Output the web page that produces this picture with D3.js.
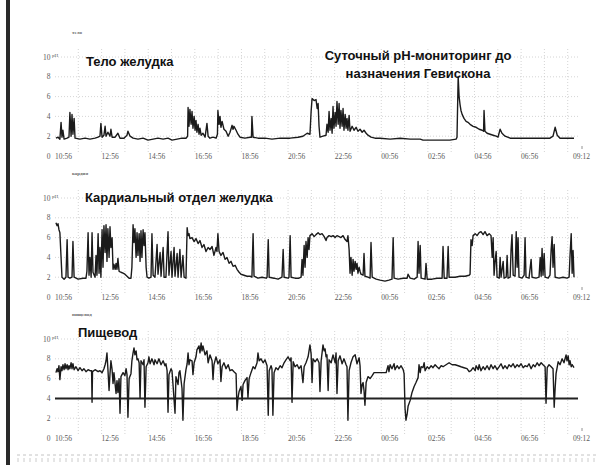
<!DOCTYPE html>
<html>
<head>
<meta charset="utf-8">
<script src="https://cdn.jsdelivr.net/npm/d3@7"></script>
<style>
  body { margin: 0; background: #fff; }
  svg { display: block; }
</style>
</head>
<body>
<svg id="chart" width="596" height="475"></svg>
<script>
// Recording start 10:56, end 09:12 next day; time is in hours elapsed since start.
const recordEnd = 22.27;
const timeTickHours = [0, 2, 4, 6, 8, 10, 12, 14, 16, 18, 20, 22.27];
const timeTickLabels = ["10:56", "12:56", "14:56", "16:56", "18:56", "20:56",
                        "22:56", "00:56", "02:56", "04:56", "06:56", "09:12"];
const hourGrid = d3.range(1, 23);
const phTicks = [0, 2, 4, 6, 8, 10];
const refluxThreshold = 4;

const panelNames = ["тело", "кардия", "пищевод"];
const panelTitles = ["Тело желудка", "Кардиальный отдел желудка", "Пищевод"];
const headline = ["Суточный pH-мониторинг до", "назначения Гевискона"];

// Stomach body sensor: [hours, pH]
const bodyReadings = [
  [0.04,1.8],[0.13,1.9],[0.21,1.7],[0.26,3.4],[0.30,1.9],[0.34,2.6],[0.39,1.7],[0.52,1.8],
  [0.60,1.9],[0.64,4.4],[0.69,2.0],[0.73,4.2],[0.77,2.2],[0.82,3.8],[0.86,1.8],[1.07,1.7],
  [1.29,1.8],[1.50,1.7],[1.72,1.8],[1.85,1.9],[1.93,2.0],[1.97,3.3],[2.02,1.9],[2.10,2.1],
  [2.15,3.0],[2.19,2.0],[2.27,2.4],[2.36,2.0],[2.40,2.7],[2.45,1.9],[2.58,1.9],[2.70,2.3],
  [2.79,1.8],[2.96,1.8],[3.09,2.1],[3.13,2.5],[3.22,2.0],[3.35,1.8],[3.56,1.7],[3.78,1.8],
  [3.99,1.6],[4.21,1.7],[4.42,1.8],[4.64,1.7],[4.85,1.8],[5.02,1.6],[5.24,1.7],[5.45,1.8],
  [5.62,1.8],[5.69,2.0],[5.71,4.9],[5.75,3.0],[5.79,4.7],[5.84,3.2],[5.88,4.5],[5.92,2.8],
  [5.97,4.0],[6.01,2.6],[6.05,3.6],[6.09,2.4],[6.14,3.2],[6.18,2.2],[6.22,2.8],[6.27,2.1],
  [6.35,2.3],[6.44,1.9],[6.52,3.3],[6.57,2.0],[6.65,1.8],[6.78,1.9],[6.91,1.8],[6.97,2.2],
  [6.99,4.6],[7.04,3.2],[7.08,4.0],[7.12,2.9],[7.17,3.5],[7.25,2.7],[7.34,2.5],[7.43,2.0],
  [7.51,2.4],[7.60,3.1],[7.64,2.7],[7.68,3.0],[7.77,2.6],[7.85,2.2],[7.94,1.9],[8.15,1.8],
  [8.37,1.9],[8.43,1.9],[8.45,4.0],[8.50,1.9],[8.71,1.8],[9.01,1.8],[9.31,1.7],[9.66,1.8],
  [10.09,1.8],[10.43,1.9],[10.64,2.0],[10.82,2.3],[10.94,2.2],[10.99,4.5],[11.03,5.8],[11.12,5.6],
  [11.20,5.7],[11.25,4.8],[11.29,5.3],[11.33,3.0],[11.37,1.9],[11.50,2.0],[11.63,2.1],[11.67,3.2],
  [11.72,2.4],[11.76,4.5],[11.80,2.6],[11.85,3.8],[11.89,2.3],[11.93,5.0],[11.97,2.8],[12.02,4.4],
  [12.06,3.0],[12.10,5.5],[12.15,3.2],[12.19,5.3],[12.23,2.8],[12.27,4.6],[12.32,3.0],[12.36,4.8],
  [12.40,2.6],[12.45,4.2],[12.49,2.8],[12.53,3.8],[12.57,2.6],[12.62,4.1],[12.66,2.5],[12.75,3.0],
  [12.83,2.6],[12.92,2.9],[13.00,2.5],[13.09,2.7],[13.18,2.4],[13.26,2.6],[13.35,2.3],[13.43,2.1],
  [13.56,1.9],[13.73,1.8],[13.95,1.8],[14.38,1.7],[14.81,1.8],[15.24,1.7],[15.67,1.7],[15.79,1.6],
  [16.09,1.6],[16.52,1.6],[16.95,1.6],[17.21,1.7],[17.25,1.9],[17.30,8.0],[17.34,6.0],[17.38,5.2],
  [17.42,4.6],[17.47,4.2],[17.55,3.8],[17.64,3.5],[17.72,3.4],[17.81,3.2],[17.94,3.0],[18.07,2.9],
  [18.20,2.7],[18.33,2.6],[18.39,2.5],[18.41,4.6],[18.45,2.5],[18.54,2.3],[18.67,2.2],[18.80,2.1],
  [18.93,2.0],[19.01,1.9],[19.10,2.7],[19.18,2.3],[19.31,2.0],[19.53,1.8],[19.96,1.8],[20.39,1.8],
  [20.82,1.8],[21.24,1.8],[21.37,2.0],[21.46,2.9],[21.55,2.1],[21.67,1.8],[21.97,1.8],[22.27,1.8]
];

// Cardia sensor: [hours, pH]
const cardiaReadings = [
  [0.04,7.5],[0.09,7.2],[0.13,7.4],[0.17,6.8],[0.21,6.5],[0.26,4.0],[0.30,2.0],[0.39,1.8],
  [0.47,2.0],[0.52,5.8],[0.56,2.0],[0.64,1.9],[0.73,2.0],[0.77,5.6],[0.82,2.0],[0.99,1.8],
  [1.20,1.9],[1.33,1.9],[1.37,2.6],[1.42,6.5],[1.46,2.2],[1.50,4.0],[1.55,2.0],[1.59,6.5],
  [1.63,2.5],[1.72,2.0],[1.76,4.2],[1.80,2.2],[1.85,6.4],[1.89,2.4],[1.93,5.0],[1.97,2.0],
  [2.02,6.8],[2.06,3.0],[2.10,7.2],[2.15,4.5],[2.19,7.3],[2.23,3.6],[2.27,6.9],[2.32,4.0],
  [2.36,7.1],[2.40,5.0],[2.45,6.0],[2.49,2.8],[2.53,3.3],[2.58,2.8],[2.62,3.4],[2.66,2.8],
  [2.70,3.9],[2.75,2.6],[2.83,2.5],[2.92,2.4],[3.00,2.3],[3.09,2.1],[3.18,1.9],[3.26,1.9],
  [3.30,3.0],[3.35,7.3],[3.39,5.5],[3.43,6.9],[3.48,4.0],[3.52,6.5],[3.56,4.2],[3.61,6.4],
  [3.65,3.6],[3.69,6.7],[3.73,4.0],[3.78,6.8],[3.82,5.2],[3.86,6.5],[3.91,3.0],[3.95,2.0],
  [4.03,1.9],[4.12,2.0],[4.16,6.4],[4.21,2.2],[4.29,2.0],[4.38,5.3],[4.42,2.3],[4.51,4.5],
  [4.55,2.1],[4.64,5.0],[4.68,2.0],[4.76,2.0],[4.85,6.6],[4.89,2.2],[4.98,4.6],[5.02,2.0],
  [5.11,5.0],[5.15,2.1],[5.24,4.4],[5.28,2.0],[5.36,4.8],[5.41,2.0],[5.49,4.2],[5.54,2.0],
  [5.62,1.9],[5.67,7.0],[5.71,6.2],[5.75,6.4],[5.79,5.9],[5.88,6.0],[5.97,5.6],[6.05,5.9],
  [6.14,5.4],[6.22,5.7],[6.31,5.0],[6.39,5.3],[6.48,4.6],[6.57,5.0],[6.65,4.8],[6.74,5.1],
  [6.82,4.2],[6.91,5.0],[6.95,4.6],[6.99,6.4],[7.04,4.6],[7.12,4.2],[7.21,4.5],[7.30,3.8],
  [7.38,4.0],[7.47,3.4],[7.55,3.6],[7.64,3.1],[7.73,3.2],[7.81,2.8],[7.90,2.5],[7.98,2.3],
  [8.11,2.2],[8.24,2.1],[8.37,2.1],[8.45,2.0],[8.50,6.4],[8.54,2.1],[8.71,1.9],[8.88,2.0],
  [9.06,1.9],[9.10,2.0],[9.15,5.8],[9.19,2.0],[9.40,1.9],[9.57,1.8],[9.74,2.0],[9.79,4.8],
  [9.83,2.0],[10.00,1.9],[10.04,2.0],[10.09,6.2],[10.13,2.0],[10.30,1.9],[10.47,1.9],[10.56,2.0],
  [10.60,3.8],[10.64,2.2],[10.69,5.2],[10.73,3.0],[10.77,5.6],[10.82,4.0],[10.86,6.0],[10.90,4.8],
  [10.94,6.2],[11.03,6.4],[11.12,6.1],[11.20,6.3],[11.29,6.5],[11.37,6.3],[11.46,6.4],[11.55,6.1],
  [11.63,5.7],[11.67,6.0],[11.76,6.2],[11.85,6.1],[11.93,6.2],[12.02,6.0],[12.10,6.2],[12.19,6.1],
  [12.27,6.0],[12.36,6.2],[12.45,5.8],[12.53,5.6],[12.57,6.2],[12.62,4.8],[12.66,2.4],[12.70,4.0],
  [12.75,2.2],[12.79,3.8],[12.83,2.6],[12.88,3.6],[12.92,2.8],[12.96,3.4],[13.00,2.4],[13.05,3.0],
  [13.09,2.6],[13.13,2.3],[13.22,2.2],[13.26,4.4],[13.30,2.1],[13.43,2.0],[13.52,1.9],[13.56,5.5],
  [13.61,2.0],[13.78,1.8],[13.95,1.7],[14.16,1.6],[14.33,1.7],[14.46,1.8],[14.51,6.0],[14.55,1.9],
  [14.72,1.8],[14.94,1.9],[15.11,1.9],[15.15,2.3],[15.24,1.9],[15.41,1.8],[15.54,2.0],[15.58,5.6],
  [15.62,2.4],[15.67,5.2],[15.71,1.9],[15.88,1.8],[15.92,3.4],[15.97,1.8],[16.18,1.8],[16.39,1.9],
  [16.61,1.9],[16.65,5.1],[16.70,1.9],[16.82,1.9],[16.87,5.1],[16.91,2.0],[17.17,2.0],[17.38,2.1],
  [17.60,2.1],[17.77,2.2],[17.81,2.3],[17.85,5.8],[17.90,5.2],[17.94,6.2],[18.03,6.4],[18.11,6.2],
  [18.20,6.5],[18.28,6.6],[18.37,6.3],[18.45,6.6],[18.54,6.2],[18.63,6.4],[18.71,6.2],[18.76,4.0],
  [18.80,6.0],[18.84,2.2],[18.88,3.5],[18.93,4.6],[18.97,2.0],[19.06,1.9],[19.10,4.0],[19.14,2.0],
  [19.23,3.6],[19.27,1.9],[19.36,2.0],[19.40,4.2],[19.44,1.9],[19.53,2.0],[19.57,4.8],[19.61,6.3],
  [19.66,2.2],[19.74,2.1],[19.79,6.6],[19.83,3.0],[19.87,6.0],[19.91,2.0],[20.04,1.9],[20.13,2.2],
  [20.17,6.0],[20.21,2.0],[20.34,1.9],[20.43,3.8],[20.47,2.0],[20.64,1.9],[20.77,2.0],[20.82,4.0],
  [20.86,2.1],[20.90,4.9],[20.94,2.2],[20.99,4.4],[21.03,2.0],[21.16,1.9],[21.24,2.2],[21.29,4.8],
  [21.33,6.1],[21.37,3.0],[21.42,5.3],[21.46,2.0],[21.63,1.9],[21.80,2.0],[21.97,1.9],[22.06,2.0],
  [22.10,4.2],[22.15,6.4],[22.19,2.4],[22.23,4.7],[22.27,2.0]
];

// Oesophagus sensor: [hours, pH]
const esophagusReadings = [
  [0.04,6.6],[0.09,7.0],[0.13,6.7],[0.17,7.3],[0.21,5.9],[0.26,7.2],[0.30,6.8],[0.34,7.4],
  [0.39,6.9],[0.43,7.5],[0.47,7.0],[0.52,7.4],[0.56,6.9],[0.60,7.3],[0.64,7.0],[0.69,7.6],
  [0.73,7.0],[0.77,7.5],[0.82,6.9],[0.90,7.2],[0.99,6.8],[1.07,7.1],[1.16,6.8],[1.24,7.0],
  [1.33,6.7],[1.42,6.9],[1.50,6.8],[1.57,6.8],[1.59,3.6],[1.61,6.7],[1.72,6.9],[1.85,6.7],
  [1.93,6.8],[2.02,6.6],[2.10,7.0],[2.15,7.4],[2.19,7.8],[2.23,8.6],[2.27,7.0],[2.32,4.8],
  [2.36,6.5],[2.40,7.8],[2.45,6.9],[2.49,5.5],[2.53,6.6],[2.62,4.5],[2.66,5.8],[2.70,4.6],
  [2.75,6.0],[2.79,2.5],[2.83,6.2],[2.92,6.6],[3.00,6.3],[3.05,7.0],[3.09,6.4],[3.13,2.1],
  [3.18,6.0],[3.26,6.5],[3.30,7.8],[3.35,8.6],[3.39,9.1],[3.43,8.4],[3.48,8.8],[3.52,7.9],
  [3.56,8.0],[3.61,7.6],[3.65,4.0],[3.69,7.8],[3.78,7.4],[3.82,7.9],[3.86,3.1],[3.91,7.2],
  [3.99,7.6],[4.03,8.2],[4.08,7.5],[4.16,8.0],[4.25,7.4],[4.29,7.9],[4.38,7.5],[4.46,8.0],
  [4.55,7.4],[4.64,7.8],[4.72,7.3],[4.76,7.5],[4.81,6.8],[4.85,2.6],[4.89,6.4],[4.98,7.0],
  [5.02,6.8],[5.06,5.5],[5.15,2.5],[5.19,6.2],[5.28,5.4],[5.32,6.6],[5.36,6.8],[5.45,5.0],
  [5.49,1.8],[5.54,5.5],[5.62,6.9],[5.67,7.5],[5.71,8.6],[5.75,7.4],[5.79,7.9],[5.88,7.8],
  [5.92,6.4],[5.97,7.6],[6.05,8.2],[6.09,8.9],[6.18,9.3],[6.22,8.6],[6.27,9.6],[6.31,8.8],
  [6.35,9.3],[6.44,8.4],[6.52,8.8],[6.57,7.6],[6.65,8.4],[6.74,7.8],[6.78,5.9],[6.82,7.4],
  [6.91,8.2],[6.99,7.5],[7.08,7.9],[7.12,5.7],[7.17,7.2],[7.25,7.6],[7.34,7.0],[7.43,7.4],
  [7.51,6.8],[7.60,6.9],[7.68,6.7],[7.77,6.5],[7.81,2.8],[7.85,4.0],[7.90,4.7],[7.98,5.2],
  [8.03,3.8],[8.07,5.4],[8.15,5.8],[8.24,6.1],[8.28,4.1],[8.33,6.0],[8.41,6.6],[8.50,7.2],
  [8.58,7.0],[8.67,7.6],[8.71,8.6],[8.76,7.8],[8.84,8.0],[8.93,7.6],[9.01,7.9],[9.10,7.3],
  [9.15,2.3],[9.19,6.8],[9.27,7.3],[9.31,7.0],[9.35,2.3],[9.40,6.6],[9.48,7.1],[9.57,6.9],
  [9.66,7.3],[9.74,7.1],[9.83,7.6],[9.91,7.9],[10.00,8.2],[10.09,7.8],[10.13,8.1],[10.17,3.6],
  [10.22,7.7],[10.30,7.2],[10.39,7.4],[10.47,7.0],[10.56,7.3],[10.64,5.6],[10.69,7.2],[10.77,7.6],
  [10.86,8.2],[10.90,8.8],[10.94,9.4],[10.99,8.5],[11.03,5.6],[11.07,8.0],[11.16,7.7],[11.25,8.0],
  [11.33,7.6],[11.37,4.7],[11.42,7.8],[11.46,8.6],[11.50,9.4],[11.55,8.8],[11.59,9.0],[11.63,8.2],
  [11.67,8.4],[11.72,4.8],[11.76,7.9],[11.85,7.6],[11.93,8.4],[12.02,7.6],[12.06,8.6],[12.10,4.5],
  [12.15,7.8],[12.23,8.3],[12.32,7.5],[12.40,8.0],[12.49,7.4],[12.53,7.2],[12.57,1.8],[12.62,6.8],
  [12.70,7.6],[12.79,8.2],[12.88,8.4],[12.96,7.5],[13.05,8.1],[13.09,7.3],[13.13,4.5],[13.18,5.4],
  [13.22,5.6],[13.26,4.8],[13.30,3.3],[13.35,5.6],[13.43,6.2],[13.52,6.0],[13.61,6.3],[13.69,6.6],
  [13.86,6.6],[14.03,6.6],[14.21,6.6],[14.29,7.3],[14.33,6.7],[14.38,7.4],[14.46,7.0],[14.55,7.5],
  [14.59,6.9],[14.68,7.3],[14.76,7.0],[14.85,7.3],[14.94,6.9],[14.98,6.5],[15.02,3.0],[15.06,1.8],
  [15.11,2.4],[15.15,3.2],[15.24,3.8],[15.32,4.6],[15.41,5.2],[15.49,5.6],[15.58,6.1],[15.62,7.4],
  [15.67,6.6],[15.71,7.2],[15.79,7.1],[15.84,7.6],[15.88,6.8],[15.97,7.2],[16.05,7.0],[16.14,7.3],
  [16.22,7.1],[16.31,7.4],[16.39,7.2],[16.48,7.0],[16.57,7.3],[16.65,7.2],[16.78,7.4],[16.91,7.6],
  [17.04,7.4],[17.17,7.4],[17.30,7.3],[17.42,7.2],[17.55,7.1],[17.68,7.0],[17.77,6.7],[17.85,6.8],
  [17.94,7.1],[18.03,6.8],[18.07,7.3],[18.16,6.9],[18.20,7.4],[18.28,6.8],[18.37,7.2],[18.45,6.9],
  [18.54,7.3],[18.63,6.9],[18.71,7.4],[18.80,7.0],[18.88,7.3],[18.97,6.9],[19.06,7.2],[19.14,7.5],
  [19.23,7.0],[19.31,7.3],[19.40,7.0],[19.48,7.4],[19.57,7.2],[19.66,7.5],[19.74,7.1],[19.83,7.4],
  [19.91,7.2],[20.00,7.5],[20.09,7.1],[20.17,7.3],[20.26,7.2],[20.34,7.5],[20.43,7.0],[20.52,7.4],
  [20.60,7.2],[20.69,7.6],[20.77,7.3],[20.86,7.6],[20.94,7.4],[21.03,7.2],[21.07,3.5],[21.12,7.1],
  [21.20,7.4],[21.29,7.2],[21.37,7.0],[21.42,3.1],[21.46,5.0],[21.50,6.5],[21.59,7.7],[21.67,7.4],
  [21.76,8.0],[21.84,7.6],[21.93,8.4],[21.97,7.8],[22.02,8.3],[22.06,7.4],[22.10,7.8],[22.15,7.2],
  [22.19,7.4],[22.27,7.1]
];

const seriesList = [bodyReadings, cardiaReadings, esophagusReadings];

const svg = d3.select("#chart");
const ink = "#1b1b1b";
const gridColor = "#c9c9c9";
const smallText = "#5a5a5a";

// Page frame: dark binding bar at the left and a dotted ruler strip at the bottom
svg.append("rect").attr("x", 6).attr("y", 0).attr("width", 4).attr("height", 465).attr("fill", "#2a2a2a");
svg.append("line").attr("x1", 17).attr("x2", 596).attr("y1", 455).attr("y2", 455)
  .attr("stroke", "#c4c4c4").attr("stroke-dasharray", "3,3");
svg.append("g").selectAll("line").data(d3.range(18, 596, 6)).join("line")
  .attr("x1", d => d).attr("x2", d => d).attr("y1", 458).attr("y2", 462)
  .attr("stroke", "#cccccc");

const x = d3.scaleLinear().domain([0, recordEnd]).range([55, 574]);
const panelTops = [57, 198, 339];
const panelHeight = 99;

panelTops.forEach((top, i) => {
  const y = d3.scaleLinear().domain([0, 10]).range([top + panelHeight, top]);
  const g = svg.append("g");

  // hourly vertical grid
  g.append("g").selectAll("line").data(hourGrid).join("line")
    .attr("x1", d => x(d)).attr("x2", d => x(d))
    .attr("y1", y(10) - 8).attr("y2", y(0) - 4)
    .attr("stroke", gridColor).attr("stroke-width", 0.8).attr("stroke-dasharray", "1,2");

  // horizontal pH grid
  g.append("g").selectAll("line").data(phTicks.filter(v => v > 0)).join("line")
    .attr("x1", x(0)).attr("x2", 578)
    .attr("y1", d => y(d)).attr("y2", d => y(d))
    .attr("stroke", gridColor).attr("stroke-width", 0.8).attr("stroke-dasharray", "1,2");

  // pH axis labels
  const yl = g.append("g").attr("font-family", "Liberation Serif, serif")
    .attr("font-size", 7.5).attr("fill", smallText);
  yl.selectAll("text").data(phTicks).join("text")
    .attr("x", 50.5).attr("y", d => y(d) + 2.5).attr("text-anchor", "end")
    .text(d => d);
  yl.append("text").attr("x", 52).attr("y", y(10)).attr("font-size", 5).text("pH");

  // time axis labels, anchored at their tick
  g.append("g").attr("font-family", "Liberation Serif, serif")
    .attr("font-size", 7.5).attr("fill", smallText)
    .selectAll("text").data(timeTickHours).join("text")
    .attr("x", (d, k) => x(d) - (k === timeTickHours.length - 1 ? 1 : 0))
    .attr("y", y(0) + 2.5)
    .text((d, k) => timeTickLabels[k]);
  g.append("line").attr("x1", 582).attr("x2", 582)
    .attr("y1", y(0) - 10).attr("y2", y(0) - 7).attr("stroke", "#777").attr("stroke-width", 0.8);

  // small sensor caption above the axis
  g.append("text").attr("x", 72).attr("y", top - 23)
    .attr("font-family", "Liberation Serif, serif").attr("font-size", 5)
    .attr("font-weight", "bold").attr("fill", "#666").text(panelNames[i]);

  // reflux threshold line in the oesophagus panel
  if (i === 2) {
    g.append("line").attr("x1", x(0)).attr("x2", 578)
      .attr("y1", y(refluxThreshold)).attr("y2", y(refluxThreshold))
      .attr("stroke", "#222").attr("stroke-width", 2);
  }

  // pH trace
  const line = d3.line().x(d => x(d[0])).y(d => y(d[1]));
  g.append("path").datum(seriesList[i]).attr("d", line)
    .attr("fill", "none").attr("stroke", ink).attr("stroke-width", 1.4)
    .attr("stroke-linejoin", "round");
});

// Panel titles
const titleFont = { family: "Liberation Sans, Arial, sans-serif", size: 13 };
const titlePos = [[86, 66], [85, 202], [78, 337]];
svg.append("g").attr("font-family", titleFont.family).attr("font-size", titleFont.size)
  .attr("font-weight", "bold").attr("fill", "#111")
  .selectAll("text").data(panelTitles).join("text")
  .attr("x", (d, i) => titlePos[i][0]).attr("y", (d, i) => titlePos[i][1])
  .text(d => d);

svg.append("g").attr("font-family", titleFont.family).attr("font-size", titleFont.size)
  .attr("font-weight", "bold").attr("fill", "#111").attr("text-anchor", "middle")
  .selectAll("text").data(headline).join("text")
  .attr("x", 418).attr("y", (d, i) => 60 + i * 18)
  .text(d => d);
</script>
</body>
</html>
